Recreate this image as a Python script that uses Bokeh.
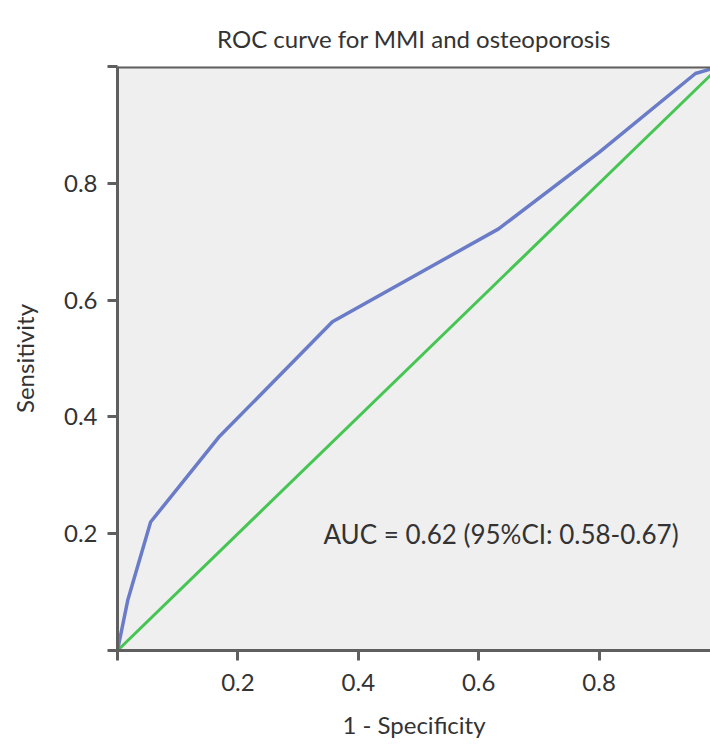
from bokeh.plotting import figure
from bokeh.models import FixedTicker, CustomJSTickFormatter, Label, Span, Range1d
from bokeh.embed import file_html
from bokeh.resources import INLINE

# ROC data
fpr = [0.0, 0.017, 0.055, 0.168, 0.357, 0.633, 0.80, 0.96, 1.0]
tpr = [0.0, 0.086, 0.220, 0.365, 0.563, 0.722, 0.853, 0.988, 1.0]
ref_x = [0.0, 1.0]
ref_y = [0.0, 1.0]
x_ticks = [0.0, 0.2, 0.4, 0.6, 0.8]
y_ticks = [0.0, 0.2, 0.4, 0.6, 0.8, 1.0]
title_text = "ROC curve for MMI and osteoporosis"
x_label = "1 - Specificity"
y_label = "Sensitivity"
auc_text = "AUC = 0.62 (95%CI: 0.58-0.67)"

FONT = "Lato"
AXIS_COLOR = "#5f5f5f"
TEXT_COLOR = "#333333"

p = figure(width=710, height=744, output_backend="svg", toolbar_location=None,
           x_range=Range1d(0, 0.985), y_range=Range1d(0, 1.0),
           min_border_left=117, min_border_right=0, min_border_top=66, min_border_bottom=94,
           background_fill_color="#efefef", border_fill_color="white")
p.outline_line_color = None
p.grid.visible = False

p.title.text = title_text
p.title.align = "center"
p.title.text_font = FONT
p.title.text_font_size = "24px"
p.title.text_font_style = "normal"
p.title.text_color = TEXT_COLOR
p.title.standoff = 27

fmt = CustomJSTickFormatter(code="return (tick > 0.01 && tick < 0.99) ? tick.toFixed(1) : '';")

for ax, ticks, lab in ((p.xaxis[0], x_ticks, x_label), (p.yaxis[0], y_ticks, y_label)):
    ax.ticker = FixedTicker(ticks=ticks)
    ax.formatter = fmt
    ax.axis_label = lab
    ax.axis_label_text_font = FONT
    ax.axis_label_text_font_size = "24px"
    ax.axis_label_text_font_style = "normal"
    ax.axis_label_text_color = TEXT_COLOR
    ax.major_label_text_font = FONT
    ax.major_label_text_font_size = "24px"
    ax.major_label_text_color = TEXT_COLOR
    ax.axis_line_color = AXIS_COLOR
    ax.axis_line_width = 3
    ax.major_tick_line_color = AXIS_COLOR
    ax.major_tick_line_width = 3
    ax.major_tick_out = 10
    ax.major_tick_in = 0
    ax.minor_tick_line_color = None

p.xaxis.major_label_standoff = 13
p.xaxis.axis_label_standoff = 16
p.yaxis.major_label_standoff = 10
p.yaxis.axis_label_standoff = 22

top = Span(location=1.0, dimension="width", line_color=AXIS_COLOR, line_width=4)
p.add_layout(top)

p.line(ref_x, ref_y, line_color="#45c552", line_width=3)
p.line(fpr, tpr, line_color="#6a7bc8", line_width=3.5)

p.add_layout(Label(x=0.342, y=0.20, text=auc_text, text_font=FONT, text_font_size="26px",
                   text_color=TEXT_COLOR, text_baseline="middle", text_align="left"))

open("out.html", "w").write(file_html(p, INLINE))
